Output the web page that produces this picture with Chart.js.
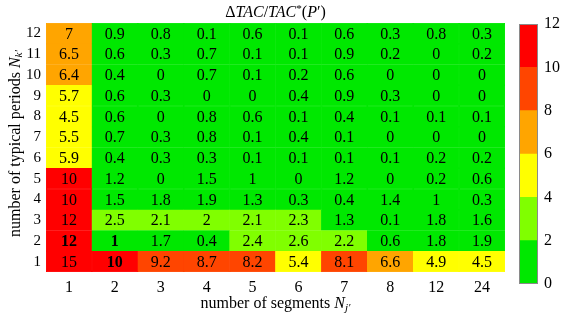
<!DOCTYPE html>
<html>
<head>
<meta charset="utf-8">
<script src="https://cdn.jsdelivr.net/npm/chart.js@4.4.1/dist/chart.umd.min.js"></script>
<style>
  body { margin: 0; background: #fff; }
  #wrap { position: relative; width: 561px; height: 319px; }
  #heat { position: absolute; left: 0; top: 0; }
  #bar { position: absolute; left: 505px; top: 0; }
</style>
</head>
<body>
<div id="wrap">
  <canvas id="heat" width="561" height="319"></canvas>
  <canvas id="bar" width="56" height="319"></canvas>
</div>
<script>
// number of segments N_j'
var segments = ['1', '2', '3', '4', '5', '6', '7', '8', '12', '24'];
// number of typical periods N_k'
var periods = [1, 2, 3, 4, 5, 6, 7, 8, 9, 10, 11, 12];

// deltaTAC / TAC*(P') per row, one array per N_k'
var nk1  = [15, 10, 9.2, 8.7, 8.2, 5.4, 8.1, 6.6, 4.9, 4.5];
var nk2  = [12, 1, 1.7, 0.4, 2.4, 2.6, 2.2, 0.6, 1.8, 1.9];
var nk3  = [12, 2.5, 2.1, 2, 2.1, 2.3, 1.3, 0.1, 1.8, 1.6];
var nk4  = [10, 1.5, 1.8, 1.9, 1.3, 0.3, 0.4, 1.4, 1, 0.3];
var nk5  = [10, 1.2, 0, 1.5, 1, 0, 1.2, 0, 0.2, 0.6];
var nk6  = [5.9, 0.4, 0.3, 0.3, 0.1, 0.1, 0.1, 0.1, 0.2, 0.2];
var nk7  = [5.5, 0.7, 0.3, 0.8, 0.1, 0.4, 0.1, 0, 0, 0];
var nk8  = [4.5, 0.6, 0, 0.8, 0.6, 0.1, 0.4, 0.1, 0.1, 0.1];
var nk9  = [5.7, 0.6, 0.3, 0, 0, 0.4, 0.9, 0.3, 0, 0];
var nk10 = [6.4, 0.4, 0, 0.7, 0.1, 0.2, 0.6, 0, 0, 0];
var nk11 = [6.5, 0.6, 0.3, 0.7, 0.1, 0.1, 0.9, 0.2, 0, 0.2];
var nk12 = [7, 0.9, 0.8, 0.1, 0.6, 0.1, 0.6, 0.3, 0.8, 0.3];
var rows = [nk1, nk2, nk3, nk4, nk5, nk6, nk7, nk8, nk9, nk10, nk11, nk12];

// cells printed in bold, as [N_k' index, N_j' index]
var boldCells = [[0, 1], [1, 0], [1, 1]];

// colour bar
var binEdges = [0, 2, 4, 6, 8, 10, 12];
var binColors = ['#00e800', '#80ff00', '#ffff00', '#ffa500', '#ff4500', '#ff0000'];
var barTicks = [0, 2, 4, 6, 8, 10, 12];

var serif = '"Liberation Serif", "Times New Roman", serif';

function colorFor(v) {
    for (var i = binEdges.length - 2; i >= 0; i--) {
        if (v >= binEdges[i]) return binColors[i];
    }
    return binColors[0];
}

function isBold(r, c) {
    return boldCells.some(function (b) { return b[0] === r && b[1] === c; });
}

// draw text made of pieces in different styles
function richText(ctx, parts, x, y, size) {
    var total = 0;
    parts.forEach(function (p) {
        var s = size * (p.scale || 1);
        ctx.font = (p.italic ? 'italic ' : '') + s + 'px ' + serif;
        p.w = ctx.measureText(p.t).width;
        total += p.w;
    });
    var cx = x - total / 2;
    ctx.textAlign = 'left';
    ctx.textBaseline = 'alphabetic';
    parts.forEach(function (p) {
        var s = size * (p.scale || 1);
        ctx.font = (p.italic ? 'italic ' : '') + s + 'px ' + serif;
        ctx.fillText(p.t, cx, y + (p.dy || 0));
        cx += p.w;
    });
}

var heatDatasets = rows.map(function (row, r) {
    return {
        label: 'Nk ' + periods[r],
        data: row.map(function () { return [periods[r] - 0.5, periods[r] + 0.5]; }),
        values: row,
        backgroundColor: row.map(colorFor),
        borderColor: row.map(colorFor),
        borderWidth: 0.5,
        borderSkipped: false,
        grouped: false,
        barPercentage: 1,
        categoryPercentage: 1
    };
});

var cellText = {
    id: 'cellText',
    afterDatasetsDraw: function (chart) {
        var ctx = chart.ctx;
        ctx.save();
        ctx.fillStyle = '#000';
        ctx.textAlign = 'center';
        ctx.textBaseline = 'middle';
        chart.data.datasets.forEach(function (ds, r) {
            var meta = chart.getDatasetMeta(r);
            meta.data.forEach(function (el, c) {
                ctx.font = (isBold(r, c) ? 'bold ' : '') + '16px ' + serif;
                ctx.fillText(String(ds.values[c]), el.x, (el.y + el.base) / 2 + 1);
            });
        });
        var a = chart.chartArea;
        ctx.fillStyle = '#000';
        richText(ctx, [
            {t: '\u0394'}, {t: 'TAC', italic: true}, {t: '/'}, {t: 'TAC', italic: true},
            {t: '*', scale: 0.7, dy: -5}, {t: '('}, {t: 'P', italic: true}, {t: '\u2032'}, {t: ')'}
        ], (a.left + a.right) / 2, 17, 16);
        richText(ctx, [
            {t: 'number of segments '}, {t: 'N', italic: true},
            {t: 'j\u2032', italic: true, scale: 0.7, dy: 3}
        ], (a.left + a.right) / 2, 308, 16);
        ctx.translate(15, (a.top + a.bottom) / 2 - 4);
        ctx.rotate(-Math.PI / 2);
        richText(ctx, [
            {t: 'number of typical periods '}, {t: 'N', italic: true},
            {t: 'k\u2032', italic: true, scale: 0.7, dy: 2}
        ], 0, 5, 16);
        ctx.restore();
    }
};

new Chart(document.getElementById('heat'), {
    type: 'bar',
    data: { labels: segments, datasets: heatDatasets },
    options: {
        responsive: false,
        devicePixelRatio: 1,
        animation: false,
        layout: { padding: { top: 23, right: 56, left: 0, bottom: 0 } },
        plugins: { legend: { display: false }, tooltip: { enabled: false }, title: { display: false } },
        scales: {
            x: {
                grid: { display: false, drawTicks: false },
                border: { display: false },
                ticks: { color: '#000', font: { family: serif, size: 16 }, padding: 6, maxRotation: 0, autoSkip: false },
                afterFit: function (s) { s.height = 47; }
            },
            y: {
                type: 'linear',
                min: 0.5,
                max: 12.5,
                grid: { display: false, drawTicks: false },
                border: { display: false },
                ticks: { color: '#000', font: { family: serif, size: 15 }, padding: 5 },
                afterBuildTicks: function (s) {
                    s.ticks = periods.map(function (p) { return { value: p }; });
                },
                afterFit: function (s) { s.width = 46; }
            }
        }
    },
    plugins: [cellText]
});

var barDatasets = binColors.map(function (col, i) {
    return {
        data: [[binEdges[i], binEdges[i + 1]]],
        backgroundColor: col,
        borderWidth: 0,
        grouped: false,
        barPercentage: 1,
        categoryPercentage: 1
    };
});

var barFrame = {
    id: 'barFrame',
    afterDatasetsDraw: function (chart) {
        var a = chart.chartArea, ctx = chart.ctx;
        ctx.save();
        ctx.strokeStyle = '#8a8a8a';
        ctx.lineWidth = 1;
        ctx.strokeRect(a.left + 0.5, a.top + 0.5, a.right - a.left - 1, a.bottom - a.top - 1);
        ctx.restore();
    }
};

new Chart(document.getElementById('bar'), {
    type: 'bar',
    data: { labels: [''], datasets: barDatasets },
    options: {
        responsive: false,
        devicePixelRatio: 1,
        animation: false,
        layout: { padding: { top: 24, bottom: 35, left: 14, right: 0 } },
        plugins: { legend: { display: false }, tooltip: { enabled: false } },
        scales: {
            x: { display: false },
            y: {
                position: 'right',
                min: 0,
                max: 12,
                grid: { display: false, drawTicks: false },
                border: { display: false },
                ticks: { color: '#000', font: { family: serif, size: 16 }, padding: 6 },
                afterBuildTicks: function (s) {
                    s.ticks = barTicks.map(function (v) { return { value: v }; });
                },
                afterFit: function (s) { s.width = 23; }
            }
        }
    },
    plugins: [barFrame]
});
</script>
</body>
</html>
